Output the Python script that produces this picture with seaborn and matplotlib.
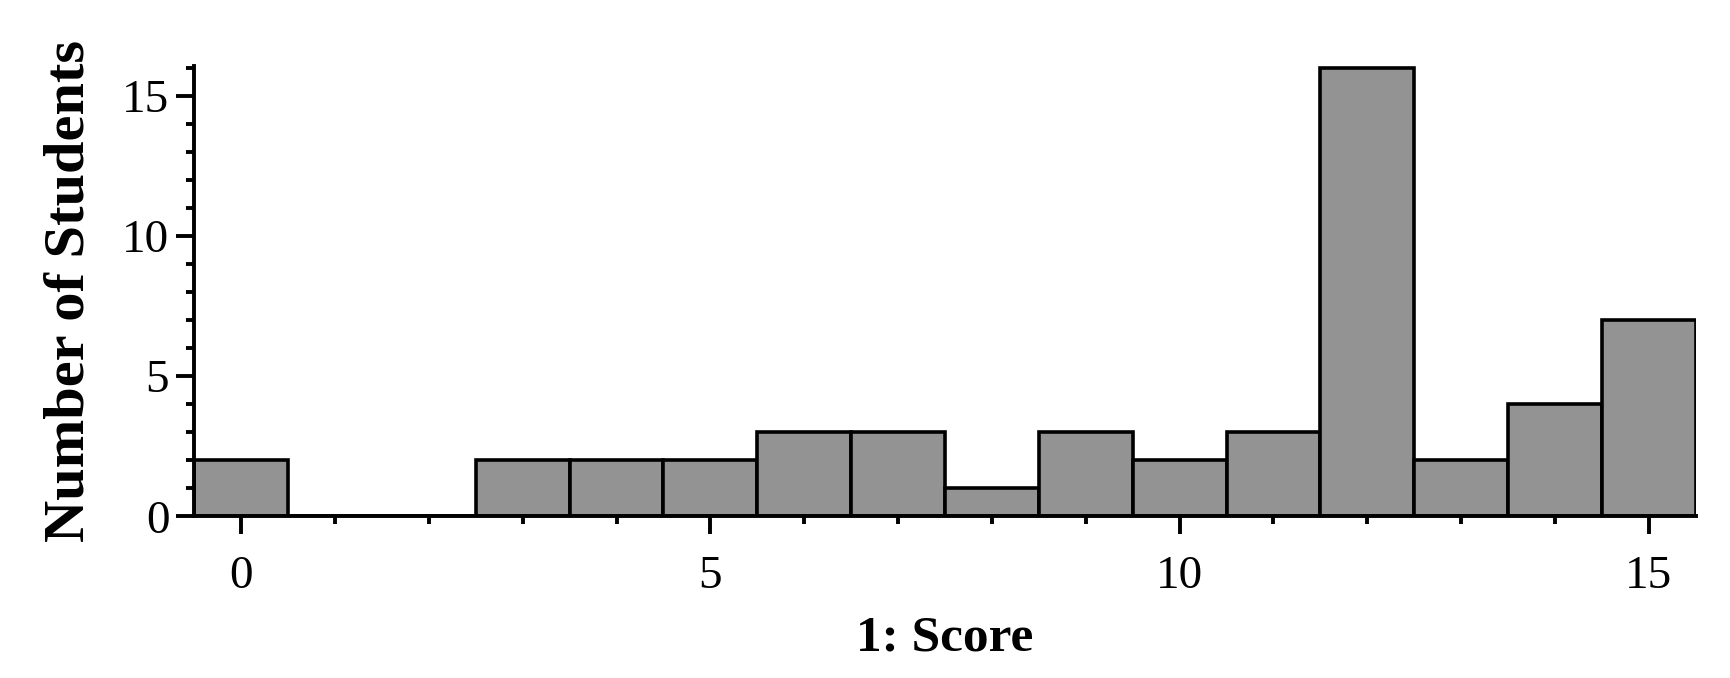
import numpy as np
import pandas as pd
import seaborn as sns
import matplotlib.pyplot as plt
from matplotlib.ticker import MultipleLocator

# score values and number of students at each score
scores = [0, 1, 2, 3, 4, 5, 6, 7, 8, 9, 10, 11, 12, 13, 14, 15]
students = [2, 0, 0, 2, 2, 2, 3, 3, 1, 3, 2, 3, 16, 2, 4, 7]

df = pd.DataFrame({"score": scores, "students": students})

sns.set_style("ticks")
plt.rcParams["font.family"] = ["Liberation Serif", "DejaVu Serif"]
for k in ["text.color", "axes.labelcolor", "xtick.color", "ytick.color", "axes.edgecolor"]:
    plt.rcParams[k] = "black"

fig = plt.figure(figsize=(17.3, 6.78), dpi=100)
ax = fig.add_axes([0.1123, 0.2384, 0.8679, 0.664])

sns.histplot(data=df, x="score", weights="students", discrete=True,
             color="#939393", alpha=1, edgecolor="black", linewidth=2.6, ax=ax)

ax.set_xlim(-0.5, 15.5)
ax.set_ylim(0, 16.05)
ax.xaxis.set_major_locator(MultipleLocator(5))
ax.xaxis.set_minor_locator(MultipleLocator(1))
ax.yaxis.set_major_locator(MultipleLocator(5))
ax.yaxis.set_minor_locator(MultipleLocator(1))

sns.despine(ax=ax)
for s in ["left", "bottom"]:
    ax.spines[s].set_linewidth(2.8)

ax.tick_params(which="major", length=13, width=2.8, labelsize=34)
ax.tick_params(which="minor", length=6, width=2.8)
ax.tick_params(axis="x", which="major", pad=15)
ax.tick_params(axis="y", which="major", pad=5)

ax.set_xlabel("1: Score", fontsize=37, fontweight="bold")
ax.set_ylabel("Number of Students", fontsize=42, fontweight="bold")
ax.xaxis.set_label_coords(0.5, -0.22)
ax.yaxis.set_label_coords(-0.066, 0.5)

fig.savefig("out.png", dpi=100)
